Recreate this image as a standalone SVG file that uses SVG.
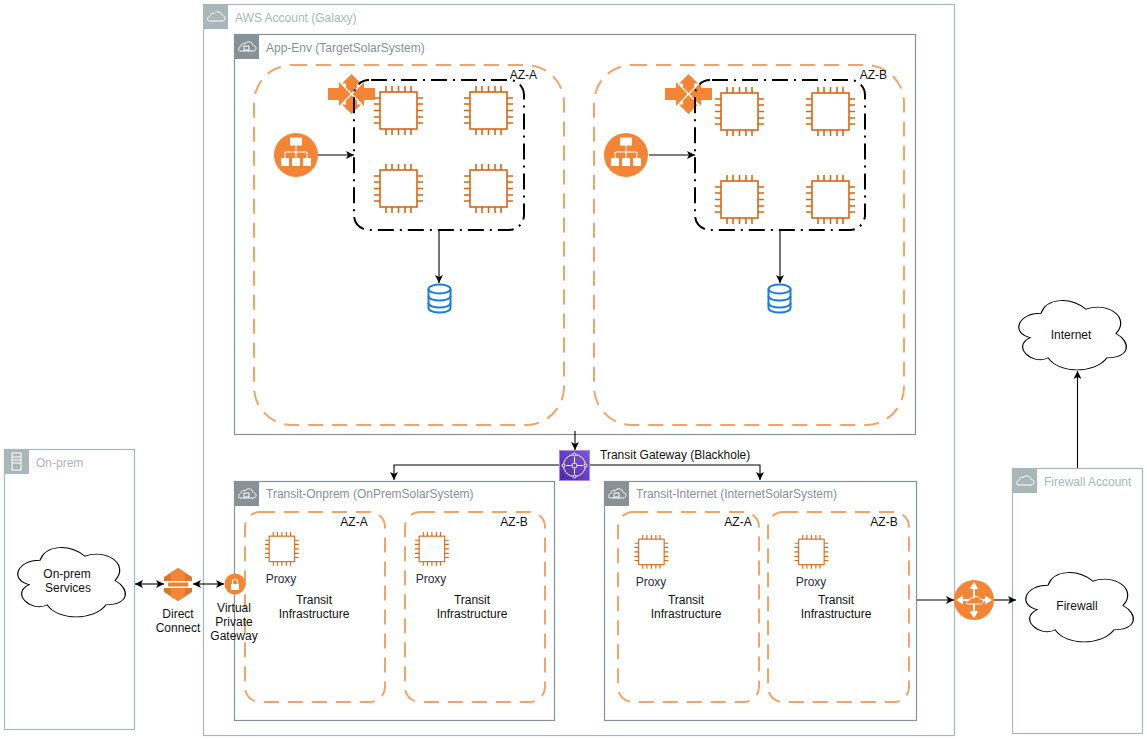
<svg xmlns="http://www.w3.org/2000/svg" width="1147" height="739" viewBox="0 0 1147 739">
<style>
text{font-family:"Liberation Sans",Arial,sans-serif;font-size:12px;fill:#111}
.m{text-anchor:middle}
.acct{fill:#fff;stroke:#AAB7B8;stroke-width:1.2}
.sub{fill:#fff;stroke:#879196;stroke-width:1.2}
.ha{fill:#AAB7B8}.hs{fill:#879196}
.la{fill:#AAB7B8}.ls{fill:#879196}
.px{fill:#232F3E}
.ico{fill:none;stroke:#fff;stroke-width:1}
.az{fill:none;stroke:#F2A366;stroke-width:2;stroke-dasharray:15 9}
.ddot{fill:none;stroke:#000;stroke-width:2;stroke-dasharray:16 6 2 6;stroke-dashoffset:-2}
.chip{fill:none;stroke:#D86613;stroke-width:1.6}
.cloud{fill:#fff;stroke:#000;stroke-width:1;vector-effect:non-scaling-stroke}
.c{fill:none;stroke:#000;stroke-width:1.1}
.db{fill:#fff;stroke:#1A7CE0;stroke-width:2}
</style>
<defs>
<linearGradient id="tg" x1="0" y1="1" x2="1" y2="0"><stop offset="0" stop-color="#4D27AA"/><stop offset="1" stop-color="#7F55E0"/></linearGradient>
<marker id="a" markerWidth="9" markerHeight="9" refX="8" refY="4.500" orient="auto-start-reverse" markerUnits="userSpaceOnUse"><path d="M0 0.500L8 4.500L0 8.500L2 4.500Z" fill="#000"/></marker>
<path id="cl" d="M25 25C5 25 0 50 16 55C0 66 18 90 31 80C40 100 70 100 80 80C100 80 100 60 87.500 50C100 30 80 10 62.500 20C50 5 30 5 25 25Z"/>
<g id="chip" class="chip">
<rect x="6" y="6" width="37" height="37"/>
<path d="M12 0V6M18 0V6M24.500 0V6M31 0V6M37 0V6M12 43V49M18 43V49M24.500 43V49M31 43V49M37 43V49M0 12H6M0 18H6M0 24.500H6M0 31H6M0 37H6M43 12H49M43 18H49M43 24.500H49M43 31H49M43 37H49"/>
</g>
<g id="nat" fill="#F58534">
<path d="M0 14H11V8L22.500 20L11 32V26H0Z"/>
<path d="M47 14H36V8L24.500 20L36 32V26H47Z"/>
<path d="M23.500 0L33 9.500H29V13.500L23.500 19L18 13.500V9.500H14Z"/>
<path d="M23.500 40L33 30.500H29V26.500L23.500 21L18 26.500V30.500H14Z"/>
</g>
<g id="lb">
<circle cx="22" cy="22" r="22" fill="#F58534"/>
<g fill="#fff"><rect x="16" y="4.500" width="12" height="8"/><rect x="7" y="25" width="8" height="8"/><rect x="18" y="25" width="8" height="8"/><rect x="29" y="25" width="8" height="8"/></g>
<path d="M22 12V21M11 25V19H33V25M22 19V25" fill="none" stroke="#fff"/>
</g>
<g id="db" class="db">
<path d="M1.500 6V25C1.500 31 23.500 31 23.500 25V6"/>
<ellipse cx="12.500" cy="6" rx="11" ry="4.500"/>
<path d="M1.500 13C1.500 19 23.500 19 23.500 13M1.500 20C1.500 26 23.500 26 23.500 20" fill="none"/>
</g>
<g id="hcloud"><path d="M6 16H19C23 16 23 10.500 19 10.500C18.500 6.500 13 5.500 11.500 8.500C9 7.500 7 9.500 7.500 11C4 11.500 4 16 6 16Z" class="ico" transform="translate(0,1)"/></g>
<g id="hlock"><use href="#hcloud"/><rect x="10" y="12" width="5" height="4" class="ico"/></g>
</defs>

<g id="aws-account"><rect x="203.500" y="4.500" width="751" height="731" class="acct"/><rect x="203" y="4" width="25" height="25" class="ha"/><use href="#hcloud" x="203" y="4"/><text x="235" y="22" class="la">AWS Account (Galaxy)</text></g>
<g id="on-prem"><rect x="4.500" y="449.500" width="130" height="280" class="acct"/><rect x="4" y="449" width="25" height="25" class="ha"/><g class="ico"><rect x="12" y="453" width="9" height="17"/><path d="M12 457H21M12 460H21M12 463H21"/></g><text x="36" y="467" class="la">On-prem</text></g>
<g id="firewall-account"><rect x="1012.500" y="468.500" width="130" height="265" class="acct"/><rect x="1012" y="468" width="25" height="25" class="ha"/><use href="#hcloud" x="1012" y="468"/><text x="1044" y="486" class="la">Firewall Account</text></g>

<g id="app-env"><rect x="234.500" y="34.500" width="681" height="400" class="sub"/><rect x="234" y="34" width="25" height="25" class="hs"/><use href="#hlock" x="234" y="34"/><text x="266" y="52" class="ls">App-Env (TargetSolarSystem)</text></g>
<g id="transit-onprem"><rect x="234.500" y="481.500" width="320" height="239" class="sub"/><rect x="234" y="481" width="25" height="25" class="hs"/><use href="#hlock" x="234" y="481"/><text x="266" y="498" class="ls">Transit-Onprem (OnPremSolarSystem)</text></g>
<g id="transit-internet"><rect x="604.500" y="481.500" width="312" height="239" class="sub"/><rect x="604" y="481" width="25" height="25" class="hs"/><use href="#hlock" x="604" y="481"/><text x="636" y="498" class="ls">Transit-Internet (InternetSolarSystem)</text></g>

<g id="az-a-app"><rect x="254" y="65" width="310" height="360" rx="38" class="az"/></g>
<g id="az-b-app"><rect x="594" y="65" width="310" height="360" rx="38" class="az"/></g>
<g id="az-a-onprem"><rect x="245" y="512" width="140" height="190" rx="15" class="az"/><text x="354" y="526" class="m">AZ-A</text></g>
<g id="az-b-onprem"><rect x="405" y="512" width="140" height="190" rx="15" class="az"/><text x="514" y="526" class="m">AZ-B</text></g>
<g id="az-a-internet"><rect x="618" y="512" width="141" height="190" rx="15" class="az"/><text x="738" y="526" class="m">AZ-A</text></g>
<g id="az-b-internet"><rect x="768" y="512" width="141" height="190" rx="15" class="az"/><text x="884" y="526" class="m">AZ-B</text></g>

<g id="nat-a"><use href="#nat" x="328" y="74"/></g>
<g id="nat-b"><use href="#nat" x="665" y="74"/></g>
<g id="az-a-inner"><rect x="354" y="80" width="170" height="150" rx="15" class="ddot"/><text x="537" y="79" text-anchor="end">AZ-A</text></g>
<g id="az-b-inner"><rect x="695" y="80" width="170" height="150" rx="15" class="ddot"/><text x="887" y="79" text-anchor="end">AZ-B</text></g>

<g id="connectors">
<path class="c" marker-end="url(#a)" d="M318 155H354"/>
<path class="c" marker-end="url(#a)" d="M649 155H695"/>
<path class="c" marker-end="url(#a)" d="M439 230V283"/>
<path class="c" marker-end="url(#a)" d="M780 230V283"/>
<path class="c" marker-end="url(#a)" d="M575 431V450"/>
<path class="c" marker-end="url(#a)" d="M559 465H394V480"/>
<path class="c" marker-end="url(#a)" d="M590 465H760V480"/>
<path class="c" marker-start="url(#a)" marker-end="url(#a)" d="M135 584H164"/>
<path class="c" marker-start="url(#a)" marker-end="url(#a)" d="M193 584H224"/>
<path class="c" marker-end="url(#a)" d="M917 600H954"/>
<path class="c" marker-end="url(#a)" d="M994 600H1016"/>
<path class="c" marker-end="url(#a)" d="M1077.500 468V371"/>
</g>

<g id="chips-a"><use href="#chip" x="374" y="86"/><use href="#chip" x="464" y="86"/><use href="#chip" x="374" y="164"/><use href="#chip" x="464" y="164"/></g>
<g id="chips-b"><use href="#chip" x="715" y="87"/><use href="#chip" x="806" y="87"/><use href="#chip" x="715" y="175"/><use href="#chip" x="806" y="175"/></g>
<g id="lb-a"><use href="#lb" x="274" y="133"/></g>
<g id="lb-b"><use href="#lb" x="604" y="133"/></g>
<g id="db-a"><use href="#db" x="427" y="283"/></g>
<g id="db-b"><use href="#db" x="767" y="283"/></g>

<g id="proxy-onprem-a"><g transform="translate(265,532) scale(.69)"><use href="#chip"/></g><text x="281" y="583" class="m px">Proxy</text><text x="314" y="604" class="m">Transit</text><text x="314" y="618" class="m">Infrastructure</text></g>
<g id="proxy-onprem-b"><g transform="translate(415,532) scale(.69)"><use href="#chip"/></g><text x="431" y="583" class="m px">Proxy</text><text x="472" y="604" class="m">Transit</text><text x="472" y="618" class="m">Infrastructure</text></g>
<g id="proxy-internet-a"><g transform="translate(634.500,535) scale(.69)"><use href="#chip"/></g><text x="651" y="586" class="m px">Proxy</text><text x="686" y="604" class="m">Transit</text><text x="686" y="618" class="m">Infrastructure</text></g>
<g id="proxy-internet-b"><g transform="translate(794.500,535) scale(.69)"><use href="#chip"/></g><text x="811" y="586" class="m px">Proxy</text><text x="836" y="604" class="m">Transit</text><text x="836" y="618" class="m">Infrastructure</text></g>

<g id="tgw"><rect x="559.500" y="450.500" width="30" height="30" fill="url(#tg)" stroke="#A58BE6"/><g fill="none" stroke="#fff"><circle cx="574.500" cy="465.500" r="11"/><circle cx="574.500" cy="465.500" r="2.500"/><path d="M577 465.500H583M566 465.500H572M574.500 463V457M574.500 468V474"/><circle cx="574.500" cy="454.500" r="1.500" fill="#6A40C8"/><circle cx="574.500" cy="476.500" r="1.500" fill="#6A40C8"/><circle cx="563.500" cy="465.500" r="1.500" fill="#6A40C8"/><circle cx="585.500" cy="465.500" r="1.500" fill="#6A40C8"/></g><text x="600" y="459">Transit Gateway (Blackhole)</text></g>

<g id="direct-connect"><path d="M178 568L192 577V581H164V577Z" fill="#D9782B"/><path d="M178 568L185 572.500V581H171V572.500Z" fill="#F58534"/><path d="M168 582.500H188V586.500H168Z" fill="#E8852F"/><path d="M164 588H192V592L178 601L164 592Z" fill="#D9782B"/><path d="M171 588H185V596.500L178 601L171 596.500Z" fill="#F58534"/><text x="178" y="618" class="m">Direct</text><text x="178" y="632" class="m">Connect</text></g>
<g id="vpg"><circle cx="235" cy="584" r="10.500" fill="#F58534"/><rect x="231" y="584" width="8" height="6" fill="#fff"/><path d="M232.500 584V581.500C232.500 578.500 237.500 578.500 237.500 581.500V584" fill="none" stroke="#fff" stroke-width="1.200"/><text x="234" y="612" class="m">Virtual</text><text x="234" y="626" class="m">Private</text><text x="234" y="640" class="m">Gateway</text></g>
<g id="igw"><circle cx="974" cy="600" r="20" fill="#F58534"/><path d="M974 584V616M958 600H990" stroke="#fff" stroke-width="2" fill="none"/><path d="M974 582L969.500 589H978.500ZM974 618L969.500 611H978.500ZM956 600L963 595.500V604.500ZM992 600L985 595.500V604.500Z" fill="#fff"/><path d="M967 604H981C984 604 984 599 980 599C979 596 975 596 974 598C971 597 969 599 970 600C966 600 966 604 967 604Z" fill="#F58534" stroke="#fff"/></g>

<g id="on-prem-services"><use href="#cl" class="cloud" transform="translate(10,540) scale(1.2,.81)"/><text x="67" y="578" class="m">On-prem</text><text x="68" y="592" class="m">Services</text></g>
<g id="internet"><use href="#cl" class="cloud" transform="translate(1011,293) scale(1.2,.81)"/><text x="1071" y="339" class="m">Internet</text></g>
<g id="firewall"><use href="#cl" class="cloud" transform="translate(1018,565) scale(1.2,.81)"/><text x="1077" y="610" class="m">Firewall</text></g>
</svg>
